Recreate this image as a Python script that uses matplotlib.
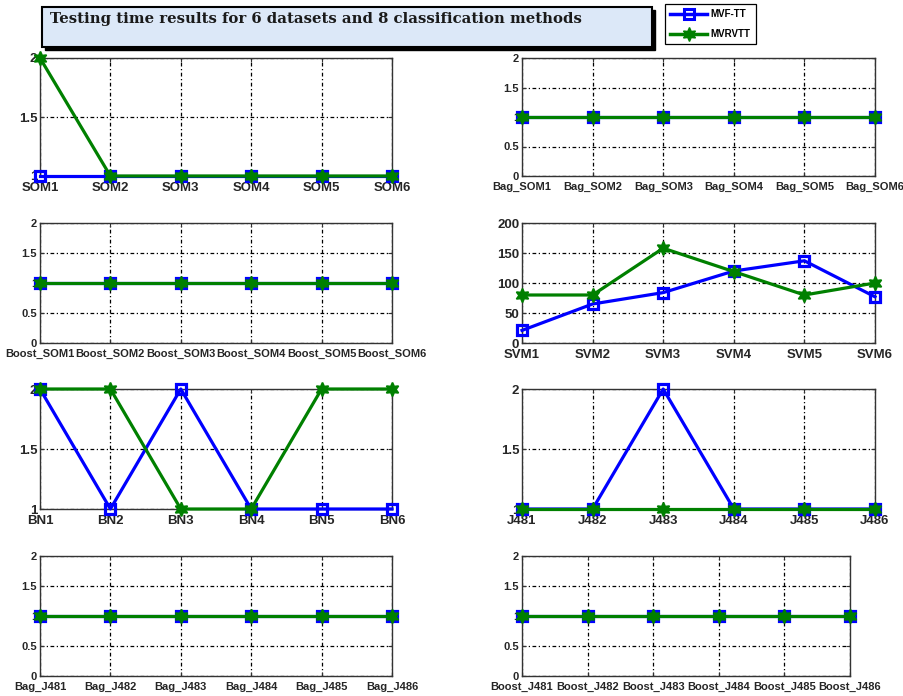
import matplotlib
matplotlib.use("Agg")
import matplotlib.pyplot as plt
from matplotlib.patches import Rectangle
from matplotlib.lines import Line2D

# ---- data -------------------------------------------------------------
series_names = ["MVF-TT", "MVRVTT"]

som_labels = ["SOM1", "SOM2", "SOM3", "SOM4", "SOM5", "SOM6"]
som_mvf = [1, 1, 1, 1, 1, 1]
som_mvr = [2, 1, 1, 1, 1, 1]

bag_som_labels = ["Bag_SOM1", "Bag_SOM2", "Bag_SOM3", "Bag_SOM4", "Bag_SOM5", "Bag_SOM6"]
bag_som_mvf = [1, 1, 1, 1, 1, 1]
bag_som_mvr = [1, 1, 1, 1, 1, 1]

boost_som_labels = ["Boost_SOM1", "Boost_SOM2", "Boost_SOM3", "Boost_SOM4", "Boost_SOM5", "Boost_SOM6"]
boost_som_mvf = [1, 1, 1, 1, 1, 1]
boost_som_mvr = [1, 1, 1, 1, 1, 1]

svm_labels = ["SVM1", "SVM2", "SVM3", "SVM4", "SVM5", "SVM6"]
svm_mvf = [21, 65, 84, 120, 137, 77]
svm_mvr = [80, 80, 158, 119, 80, 100]

bn_labels = ["BN1", "BN2", "BN3", "BN4", "BN5", "BN6"]
bn_mvf = [2, 1, 2, 1, 1, 1]
bn_mvr = [2, 2, 1, 1, 2, 2]

j48_labels = ["J481", "J482", "J483", "J484", "J485", "J486"]
j48_mvf = [1, 1, 2, 1, 1, 1]
j48_mvr = [1, 1, 1, 1, 1, 1]

bag_j48_labels = ["Bag_J481", "Bag_J482", "Bag_J483", "Bag_J484", "Bag_J485", "Bag_J486"]
bag_j48_mvf = [1, 1, 1, 1, 1, 1]
bag_j48_mvr = [1, 1, 1, 1, 1, 1]

boost_j48_labels = ["Boost_J481", "Boost_J482", "Boost_J483", "Boost_J484", "Boost_J485", "Boost_J486"]
boost_j48_mvf = [1, 1, 1, 1, 1, 1]
boost_j48_mvr = [1, 1, 1, 1, 1, 1]

title_text = "Testing time results for 6 datasets and 8 classification methods"

# ---- styling ----------------------------------------------------------
W, H = 904, 696
BLUE = "#0000ff"
GREEN = "#008000"
TXT = "#262626"
HEX = (6, 1, 0)  # six-pointed star

plt.rcParams["font.family"] = ["Liberation Sans", "DejaVu Sans"]
plt.rcParams["font.weight"] = "bold"

fig = plt.figure(figsize=(W / 100, H / 100), dpi=100)


def px_axes(x0, y0, x1, y1):
    return fig.add_axes([x0 / W, 1 - y1 / H, (x1 - x0) / W, (y1 - y0) / H])


def panel(box, labels, mvf, mvr, ylim, yticks, yticklabels, fs):
    ax = px_axes(*box)
    x = list(range(len(labels)))
    ax.plot(x, mvf, color=BLUE, lw=2.3, marker="s", ms=7.5, mfc="none",
            mec=BLUE, mew=2.3, clip_on=False, zorder=3)
    ax.plot(x, mvr, color=GREEN, lw=2.3, marker=HEX, ms=10, mfc=GREEN,
            mec=GREEN, mew=1.2, clip_on=False, zorder=4)
    ax.set_xlim(0, len(labels) - 1)
    ax.set_ylim(*ylim)
    ax.set_xticks(x)
    ax.set_xticklabels(labels, fontsize=fs, fontweight="bold", color=TXT)
    ax.set_yticks(yticks)
    ax.set_yticklabels(yticklabels, fontsize=fs, fontweight="bold", color=TXT)
    ax.tick_params(direction="in", length=3, width=0.8, pad=2,
                   top=True, right=True, colors="#333333",
                   labelcolor=TXT)
    ax.tick_params(axis="x", pad=4)
    ax.grid(True, color="black", lw=0.9, linestyle=(0, (3, 2, 1, 2)))
    ax.set_axisbelow(True)
    for s in ax.spines.values():
        s.set_color("#333333")
        s.set_linewidth(1.0)
    return ax


y12l = ["1", "1.5", "2"]
y12v = [1, 1.5, 2]
y02 = [0, 0.5, 1, 1.5, 2]
y02l = ["0", "0.5", "1", "1.5", "2"]

L = (40, 392)
R = (522, 875)
rows = [(58, 176), (223, 343), (389, 509), (556, 676)]

panel((L[0], rows[0][0], L[1], rows[0][1]), som_labels, som_mvf, som_mvr,
      (1, 2), y12v, y12l, 9.5)
panel((R[0], rows[0][0], R[1], rows[0][1]), bag_som_labels, bag_som_mvf, bag_som_mvr,
      (0, 2), y02, y02l, 8)
panel((L[0], rows[1][0], L[1], rows[1][1]), boost_som_labels, boost_som_mvf, boost_som_mvr,
      (0, 2), y02, y02l, 8)
panel((R[0], rows[1][0], R[1], rows[1][1]), svm_labels, svm_mvf, svm_mvr,
      (0, 200), [0, 50, 100, 150, 200], ["0", "50", "100", "150", "200"], 9.5)
panel((L[0], rows[2][0], L[1], rows[2][1]), bn_labels, bn_mvf, bn_mvr,
      (1, 2), y12v, y12l, 9.5)
panel((R[0], rows[2][0], R[1], rows[2][1]), j48_labels, j48_mvf, j48_mvr,
      (1, 2), y12v, y12l, 9.5)
panel((L[0], rows[3][0], L[1], rows[3][1]), bag_j48_labels, bag_j48_mvf, bag_j48_mvr,
      (0, 2), y02, y02l, 8)
panel((R[0], rows[3][0], 850, rows[3][1]), boost_j48_labels, boost_j48_mvf, boost_j48_mvr,
      (0, 2), y02, y02l, 8)

# ---- title box with drop shadow ----------------------------------------
bx0, by0, bx1, by1 = 42, 7, 652, 47
fig.patches.append(Rectangle((bx0 / W + 3 / W, 1 - (by1 + 3) / H),
                             (bx1 - bx0) / W, (by1 - by0) / H,
                             transform=fig.transFigure, facecolor="black",
                             edgecolor="black", lw=1, zorder=1))
fig.patches.append(Rectangle((bx0 / W, 1 - by1 / H),
                             (bx1 - bx0) / W, (by1 - by0) / H,
                             transform=fig.transFigure, facecolor="#dce8f8",
                             edgecolor="black", lw=1.5, zorder=2))
fig.text(50 / W, 1 - 19 / H, title_text, family=["DejaVu Serif"],
         fontsize=10.7, fontweight="bold", color="#1a1a1a", va="center", ha="left",
         zorder=3)

# ---- legend -----------------------------------------------------------
handles = [
    Line2D([], [], color=BLUE, lw=2.5, marker="s", ms=6.5, mfc="none", mec=BLUE, mew=2.2),
    Line2D([], [], color=GREEN, lw=2.5, marker=HEX, ms=10, mfc=GREEN, mec=GREEN, mew=1),
]
leg = fig.legend(handles, series_names, loc="upper left",
                 bbox_to_anchor=(665 / W, 1 - 4 / H), frameon=True, fancybox=False,
                 edgecolor="black", framealpha=1, handlelength=3.8,
                 handletextpad=0.3, borderpad=0.55, labelspacing=1.0,
                 borderaxespad=0,
                 prop={"weight": "bold", "size": 7, "stretch": "condensed"})
leg.get_frame().set_linewidth(0.9)

fig.savefig("out.png", dpi=100)
